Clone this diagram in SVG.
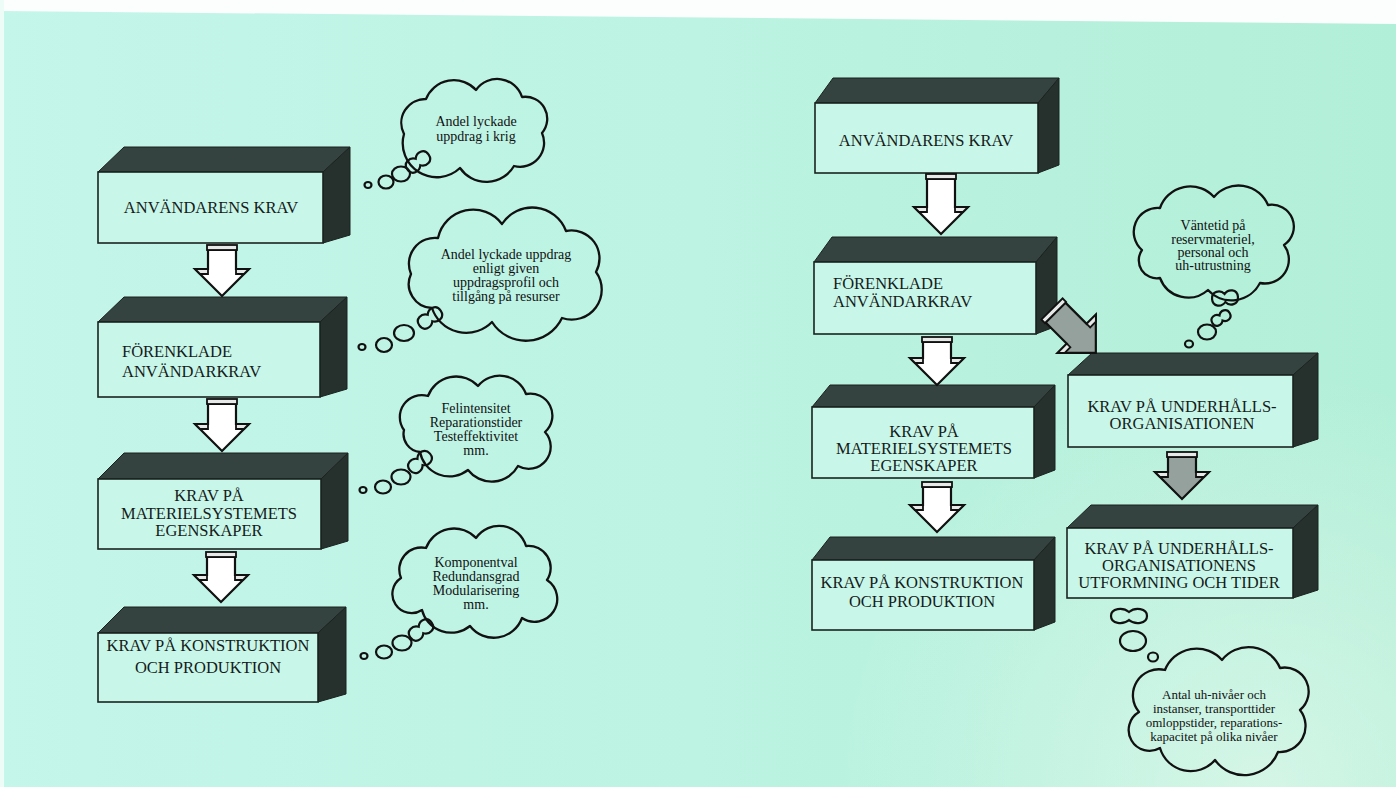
<svg xmlns="http://www.w3.org/2000/svg" xmlns:xlink="http://www.w3.org/1999/xlink" width="1396" height="787" viewBox="0 0 1396 787">
  <defs>
    <linearGradient id="paper" x1="0" y1="0" x2="1" y2="0">
      <stop offset="0" stop-color="#c4f6ea"/>
      <stop offset="0.5" stop-color="#bcf3e2"/>
      <stop offset="1" stop-color="#b2efd8"/>
    </linearGradient>
    <radialGradient id="haze" cx="1260" cy="790" r="420" gradientUnits="userSpaceOnUse">
      <stop offset="0" stop-color="#e2f8ec" stop-opacity="0.7"/>
      <stop offset="1" stop-color="#e2f8ec" stop-opacity="0"/>
    </radialGradient>
    <!-- thought-trail bubbles -->
    <path id="pn" d="M-13,0 C-13,-8 -4,-9 0,-4 C4,-9 13,-8 13,0 C13,8 4,9 0,4 C-4,9 -13,8 -13,0Z"/>
    <path id="pn2" d="M-10,0 C-10,-6 -3,-7 0,-3 C3,-7 10,-6 10,0 C10,6 3,7 0,3 C-3,7 -10,6 -10,0Z"/>
    <path id="pn3" d="M-18,0 C-18,-8 -6,-9 0,-4 C6,-9 18,-8 18,0 C18,8 6,9 0,4 C-6,9 -18,8 -18,0Z"/>
    <style>
      .face{fill:#c8f7ea;stroke:#1b2220;stroke-width:1.6}
      .top{fill:#34433f;stroke:#1b2220;stroke-width:1}
      .side{fill:#26302d;stroke:#1b2220;stroke-width:1}
      .lbl{font-family:"Liberation Serif",serif;font-size:16.5px;fill:#161b19;text-anchor:middle}
      .lbl.l{text-anchor:start}
      .cloud{fill:none;stroke:#111;stroke-width:2.3;stroke-linejoin:round;stroke-linecap:round}
      .ct{font-family:"Liberation Serif",serif;font-size:14px;fill:#111;text-anchor:middle}
      .ct.s{font-size:13px}
      .bub{fill:none;stroke:#111;stroke-width:2.2}
      .arw{fill:#ffffff;stroke:#111;stroke-width:2.2;stroke-linejoin:miter}
      .arw.g{fill:#94a19c}
      .lid{fill:#e6e9e7;stroke:#111;stroke-width:1.8}
    </style>
  </defs>

  <!-- page -->
  <rect width="1396" height="787" fill="url(#paper)"/>
  <rect width="1396" height="787" fill="url(#haze)"/>
  <polygon points="0,0 1396,0 1396,24 0,11" fill="#fbfefd"/>
  <rect x="0" y="0" width="4" height="787" fill="#eefcf7"/>

  <!-- ===== left chain ===== -->
  <g id="l-anvandarens-krav">
    <polygon class="top" points="98,172 124,147 350,147 323,172"/>
    <polygon class="side" points="323,172 350,147 350,235 323,243"/>
    <rect class="face" x="98" y="172" width="225" height="71"/>
    <text class="lbl" x="211" y="213">ANVÄNDARENS KRAV</text>
  </g>
  <g id="l-forenklade">
    <polygon class="top" points="98,322 124,297 347,297 320,322"/>
    <polygon class="side" points="320,322 347,297 347,389 320,397"/>
    <rect class="face" x="98" y="322" width="222" height="75"/>
    <text class="lbl l" x="122" y="357">FÖRENKLADE</text>
    <text class="lbl l" x="122" y="377">ANVÄNDARKRAV</text>
  </g>
  <g id="l-materiel">
    <polygon class="top" points="98,479 124,453 348,453 321,479"/>
    <polygon class="side" points="321,479 348,453 348,541 321,549"/>
    <rect class="face" x="98" y="479" width="223" height="70"/>
    <text class="lbl" x="209" y="501">KRAV PÅ</text>
    <text class="lbl" x="209" y="519">MATERIELSYSTEMETS</text>
    <text class="lbl" x="209" y="536">EGENSKAPER</text>
  </g>
  <g id="l-konstruktion">
    <polygon class="top" points="98,633 124,607 346,607 318,633"/>
    <polygon class="side" points="318,633 346,607 346,694 318,702"/>
    <rect class="face" x="98" y="633" width="220" height="69"/>
    <text class="lbl" x="208" y="651">KRAV PÅ KONSTRUKTION</text>
    <text class="lbl" x="208" y="673">OCH PRODUKTION</text>
  </g>

  <!-- left thought clouds -->
  <g id="c-krig">
    <path class="cloud" d="M404,134 A24,24 0 0 1 426,99 A30,30 0 0 1 476,90 A26,26 0 0 1 522,97 A22,22 0 0 1 542,133 A24,24 0 0 1 514,166 A32,32 0 0 1 460,168 A34,34 0 0 1 404,134 Z"/>
    <text class="ct" x="476" y="126">Andel lyckade</text>
    <text class="ct" x="476" y="141">uppdrag i krig</text>
    <use class="bub" href="#pn" transform="translate(418,162) rotate(-35)"/>
    <ellipse class="bub" cx="401" cy="174" rx="9" ry="7.5"/>
    <ellipse class="bub" cx="386" cy="182" rx="7.5" ry="6.5"/>
    <ellipse class="bub" cx="368" cy="185" rx="3.5" ry="3"/>
  </g>
  <g id="c-profil">
    <path class="cloud" d="M411,274 A26,26 0 0 1 438,238 A36,36 0 0 1 502,224 A36,36 0 0 1 566,231 A28,28 0 0 1 596,272 A30,30 0 0 1 562,318 A40,40 0 0 1 492,322 A36,36 0 0 1 432,308 A24,24 0 0 1 411,274 Z"/>
    <text class="ct" x="506" y="259">Andel lyckade uppdrag</text>
    <text class="ct" x="506" y="273">enligt given</text>
    <text class="ct" x="506" y="287">uppdragsprofil och</text>
    <text class="ct" x="506" y="301">tillgång på resurser</text>
    <use class="bub" href="#pn" transform="translate(430,318) rotate(-35)"/>
    <ellipse class="bub" cx="404" cy="333" rx="10" ry="8"/>
    <ellipse class="bub" cx="384" cy="345" rx="8" ry="7"/>
    <ellipse class="bub" cx="362" cy="347" rx="3.5" ry="3"/>
  </g>
  <g id="c-felintensitet">
    <path class="cloud" d="M404,430 A22,22 0 0 1 428,396 A30,30 0 0 1 478,386 A28,28 0 0 1 526,394 A22,22 0 0 1 545,432 A22,22 0 0 1 518,466 A30,30 0 0 1 468,470 A30,30 0 0 1 420,452 A18,18 0 0 1 404,430 Z"/>
    <text class="ct" x="476" y="413">Felintensitet</text>
    <text class="ct" x="476" y="427">Reparationstider</text>
    <text class="ct" x="476" y="441">Testeffektivitet</text>
    <text class="ct" x="476" y="455">mm.</text>
    <use class="bub" href="#pn" transform="translate(420,462) rotate(-40)"/>
    <ellipse class="bub" cx="401" cy="477" rx="9.5" ry="7.5"/>
    <ellipse class="bub" cx="383" cy="487" rx="8" ry="6.5"/>
    <ellipse class="bub" cx="363" cy="490" rx="3.5" ry="3"/>
  </g>
  <g id="c-komponentval">
    <path class="cloud" d="M401,578 A22,22 0 0 1 426,548 A30,30 0 0 1 476,538 A28,28 0 0 1 526,546 A22,22 0 0 1 547,580 A22,22 0 0 1 522,618 A30,30 0 0 1 470,626 A30,30 0 0 1 422,610 A18,18 0 0 1 401,578 Z"/>
    <text class="ct" x="476" y="567">Komponentval</text>
    <text class="ct" x="476" y="581">Redundansgrad</text>
    <text class="ct" x="476" y="595">Modularisering</text>
    <text class="ct" x="476" y="609">mm.</text>
    <use class="bub" href="#pn" transform="translate(421,630) rotate(-35)"/>
    <ellipse class="bub" cx="402" cy="643" rx="9.5" ry="7.5"/>
    <ellipse class="bub" cx="384" cy="652" rx="8" ry="6.5"/>
    <ellipse class="bub" cx="364" cy="656" rx="3.5" ry="3"/>
  </g>

  <!-- ===== right chain ===== -->
  <g id="r-anvandarens-krav">
    <polygon class="top" points="815,103 833,78 1059,78 1038,103"/>
    <polygon class="side" points="1038,103 1059,78 1059,165 1038,173"/>
    <rect class="face" x="815" y="103" width="223" height="70"/>
    <text class="lbl" x="926" y="146">ANVÄNDARENS KRAV</text>
  </g>
  <g id="r-forenklade">
    <polygon class="top" points="814,262 832,237 1057,237 1036,262"/>
    <polygon class="side" points="1036,262 1057,237 1057,326 1036,334"/>
    <rect class="face" x="814" y="262" width="222" height="72"/>
    <text class="lbl l" x="833" y="289">FÖRENKLADE</text>
    <text class="lbl l" x="833" y="307">ANVÄNDARKRAV</text>
  </g>
  <g id="r-materiel">
    <polygon class="top" points="812,407 830,385 1055,385 1034,407"/>
    <polygon class="side" points="1034,407 1055,385 1055,470 1034,478"/>
    <rect class="face" x="812" y="407" width="222" height="71"/>
    <text class="lbl" x="924" y="437">KRAV PÅ</text>
    <text class="lbl" x="924" y="454">MATERIELSYSTEMETS</text>
    <text class="lbl" x="924" y="471">EGENSKAPER</text>
  </g>
  <g id="r-konstruktion">
    <polygon class="top" points="812,560 830,537 1055,537 1034,560"/>
    <polygon class="side" points="1034,560 1055,537 1055,622 1034,630"/>
    <rect class="face" x="812" y="560" width="222" height="70"/>
    <text class="lbl" x="922" y="588">KRAV PÅ KONSTRUKTION</text>
    <text class="lbl" x="922" y="607">OCH PRODUKTION</text>
  </g>
  <g id="r-underhall">
    <polygon class="top" points="1068,375 1092,353 1318,353 1293,375"/>
    <polygon class="side" points="1293,375 1318,353 1318,439 1293,447"/>
    <rect class="face" x="1068" y="375" width="225" height="72"/>
    <text class="lbl" x="1182" y="412">KRAV PÅ UNDERHÅLLS-</text>
    <text class="lbl" x="1182" y="429">ORGANISATIONEN</text>
  </g>
  <g id="r-utformning">
    <polygon class="top" points="1067,528 1091,505 1318,505 1293,528"/>
    <polygon class="side" points="1293,528 1318,505 1318,590 1293,598"/>
    <rect class="face" x="1067" y="528" width="226" height="70"/>
    <text class="lbl" x="1179" y="554">KRAV PÅ UNDERHÅLLS-</text>
    <text class="lbl" x="1179" y="571">ORGANISATIONENS</text>
    <text class="lbl" x="1179" y="588">UTFORMNING OCH TIDER</text>
  </g>

  <!-- right thought clouds -->
  <g id="c-vantetid">
    <path class="cloud" d="M1142,250 A24,24 0 0 1 1160,208 A32,32 0 0 1 1214,197 A32,32 0 0 1 1268,205 A22,22 0 0 1 1284,245 A24,24 0 0 1 1260,283 A32,32 0 0 1 1208,290 A30,30 0 0 1 1160,278 A18,18 0 0 1 1142,250 Z"/>
    <text class="ct" x="1213" y="230">Väntetid på</text>
    <text class="ct" x="1213" y="244">reservmateriel,</text>
    <text class="ct" x="1213" y="257">personal och</text>
    <text class="ct" x="1213" y="270">uh-utrustning</text>
    <use class="bub" href="#pn" transform="translate(1225,298) rotate(-5)"/>
    <use class="bub" href="#pn2" transform="translate(1221,318) rotate(-30)"/>
    <ellipse class="bub" cx="1207" cy="332" rx="9" ry="7.5"/>
    <ellipse class="bub" cx="1189" cy="344" rx="4" ry="3.5"/>
  </g>
  <g id="c-nivaer">
    <path class="cloud" d="M1139,712 A26,26 0 0 1 1165,670 A34,34 0 0 1 1222,660 A34,34 0 0 1 1280,668 A24,24 0 0 1 1300,710 A26,26 0 0 1 1278,752 A36,36 0 0 1 1215,760 A32,32 0 0 1 1160,748 A20,20 0 0 1 1139,712 Z"/>
    <text class="ct s" x="1214" y="699">Antal uh-nivåer och</text>
    <text class="ct s" x="1214" y="713">instanser, transporttider</text>
    <text class="ct s" x="1214" y="727">omloppstider, reparations-</text>
    <text class="ct s" x="1214" y="741">kapacitet på olika nivåer</text>
    <use class="bub" href="#pn3" transform="translate(1129,616)"/>
    <ellipse class="bub" cx="1133" cy="641" rx="13" ry="10"/>
    <ellipse class="bub" cx="1153" cy="657" rx="5" ry="4.5"/>
  </g>

  <!-- ===== connectors: 3-D block arrows ===== -->
  <g id="connectors">
    <g transform="translate(222,245)">
      <polygon class="arw" points="-14,5 14,5 14,24 27,24 0,51 -27,24 -14,24"/>
      <rect class="lid" x="-15" y="0" width="30" height="5"/>
      <polygon class="lid" points="-27,24 -14,24 -14,29 -22,29"/>
      <polygon class="lid" points="14,24 27,24 22,29 14,29"/>
    </g>
    <g transform="translate(222,399)">
      <polygon class="arw" points="-14,5 14,5 14,25 27,25 0,52 -27,25 -14,25"/>
      <rect class="lid" x="-15" y="0" width="30" height="5"/>
      <polygon class="lid" points="-27,25 -14,25 -14,30 -22,30"/>
      <polygon class="lid" points="14,25 27,25 22,30 14,30"/>
    </g>
    <g transform="translate(221,552)">
      <polygon class="arw" points="-14,5 14,5 14,23 27,23 0,50 -27,23 -14,23"/>
      <rect class="lid" x="-15" y="0" width="30" height="5"/>
      <polygon class="lid" points="-27,23 -14,23 -14,28 -22,28"/>
      <polygon class="lid" points="14,23 27,23 22,28 14,28"/>
    </g>
    <g transform="translate(941,174)">
      <polygon class="arw" points="-14,5 14,5 14,33 27,33 0,60 -27,33 -14,33"/>
      <rect class="lid" x="-15" y="0" width="30" height="5"/>
      <polygon class="lid" points="-27,33 -14,33 -14,38 -22,38"/>
      <polygon class="lid" points="14,33 27,33 22,38 14,38"/>
    </g>
    <g transform="translate(937,337)">
      <polygon class="arw" points="-14,5 14,5 14,21 27,21 0,48 -27,21 -14,21"/>
      <rect class="lid" x="-15" y="0" width="30" height="5"/>
      <polygon class="lid" points="-27,21 -14,21 -14,26 -22,26"/>
      <polygon class="lid" points="14,21 27,21 22,26 14,26"/>
    </g>
    <g transform="translate(937,482)">
      <polygon class="arw" points="-14,5 14,5 14,23 27,23 0,50 -27,23 -14,23"/>
      <rect class="lid" x="-15" y="0" width="30" height="5"/>
      <polygon class="lid" points="-27,23 -14,23 -14,28 -22,28"/>
      <polygon class="lid" points="14,23 27,23 22,28 14,28"/>
    </g>
    <!-- grey arrows into the maintenance chain -->
    <g transform="translate(1052,309) rotate(-45)">
      <polygon class="arw g" points="-14,5 14,5 14,35 27,35 0,62 -27,35 -14,35"/>
      <rect class="lid" x="-15" y="0" width="30" height="5"/>
      <polygon class="lid" points="-27,35 -14,35 -14,40 -22,40"/>
      <polygon class="lid" points="14,35 27,35 22,40 14,40"/>
    </g>
    <g transform="translate(1182,452)">
      <polygon class="arw g" points="-14,5 14,5 14,20 27,20 0,47 -27,20 -14,20"/>
      <rect class="lid" x="-15" y="0" width="30" height="5"/>
      <polygon class="lid" points="-27,20 -14,20 -14,25 -22,25"/>
      <polygon class="lid" points="14,20 27,20 22,25 14,25"/>
    </g>
  </g>
</svg>
